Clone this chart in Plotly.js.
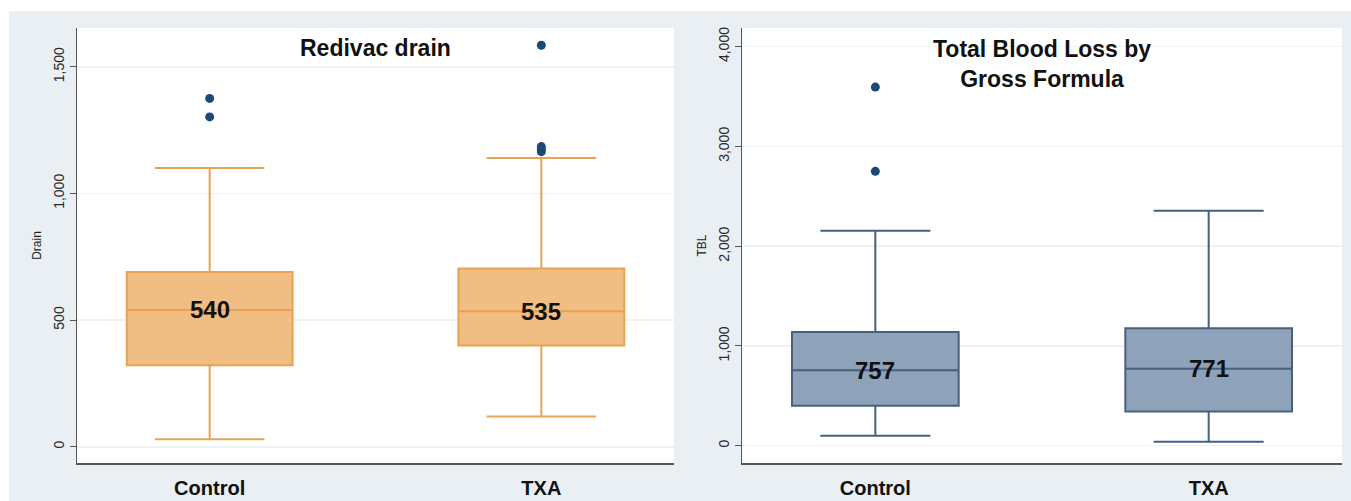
<!DOCTYPE html>
<html>
<head>
<meta charset="utf-8">
<script src="https://cdn.plot.ly/plotly-3.0.1.min.js"></script>
<style>html,body{margin:0;padding:0;background:#fff;}#chart{width:1351px;height:501px;}</style>
</head>
<body>
<div id="chart"></div>
<script>
// ---- data ----
const categories = ['Control', 'TXA'];
const positions = [0, 1];

// Redivac drain (left panel)
const drainLower  = [30, 120];
const drainQ1     = [322, 400];
const drainMedian = [540, 535];
const drainQ3     = [690, 704];
const drainUpper  = [1100, 1140];
const drainOutControl = [1375, 1302];
const drainOutTXA     = [1585, 1185, 1175, 1165];

// Total blood loss (right panel)
const tblLower  = [100, 40];
const tblQ1     = [400, 344];
const tblMedian = [757, 771];
const tblQ3     = [1140, 1177];
const tblUpper  = [2155, 2355];
const tblOutControl = [3595, 2750];
const tblOutTXA     = [];

const drainTicks = [0, 500, 1000, 1500];
const tblTicks   = [0, 1000, 2000, 3000, 4000];

// ---- styles ----
const orangeFill = 'rgb(240,190,130)';
const orangeLine = 'rgb(232,162,82)';
const blueFill = 'rgb(142,162,186)';
const blueLine = 'rgb(70,96,126)';
const dotColor = 'rgb(28,72,118)';
const bgGray = '#e9eff2';
const boldFont = 'Liberation Sans, Arial, sans-serif';

function boxTrace(xa, ya, lower, q1, med, q3, upper, fill, line) {
  return {
    type: 'box', x: positions, q1: q1, median: med, q3: q3,
    lowerfence: lower, upperfence: upper,
    xaxis: xa, yaxis: ya, width: 0.5, whiskerwidth: 0.66,
    boxpoints: false, fillcolor: fill, line: {color: line, width: 2},
    hoverinfo: 'skip', showlegend: false
  };
}
function outTrace(xa, ya, pos, vals) {
  return {
    type: 'scatter', mode: 'markers', x: vals.map(() => pos), y: vals,
    xaxis: xa, yaxis: ya, marker: {color: dotColor, size: 9},
    hoverinfo: 'skip', showlegend: false
  };
}

const data = [
  boxTrace('x', 'y', drainLower, drainQ1, drainMedian, drainQ3, drainUpper, orangeFill, orangeLine),
  outTrace('x', 'y', positions[0], drainOutControl),
  outTrace('x', 'y', positions[1], drainOutTXA),
  boxTrace('x2', 'y2', tblLower, tblQ1, tblMedian, tblQ3, tblUpper, blueFill, blueLine),
  outTrace('x2', 'y2', positions[0], tblOutControl),
  outTrace('x2', 'y2', positions[1], tblOutTXA)
];

const W = 1351, H = 501;
const px = v => v / W, py = v => 1 - v / H;

function xAxis(domain) {
  return {
    domain: domain, range: [-0.4, 1.4], tickvals: positions, ticktext: categories,
    showline: true, linecolor: '#555', linewidth: 1.5, ticks: '', showgrid: false,
    zeroline: false, ticklabelstandoff: 6,
    tickfont: {family: boldFont, size: 20, color: '#111', weight: 'bold'}
  };
}
function yAxis(domain, range, ticks, title) {
  return {
    domain: domain, range: range, tickvals: ticks, tickformat: ',',
    showline: true, linecolor: '#555', linewidth: 1.5, ticks: 'outside', ticklen: 6,
    tickcolor: '#555', tickangle: -90, showgrid: true, gridcolor: '#eef2f4', gridwidth: 1.5,
    zeroline: false, tickfont: {family: 'Liberation Sans, Arial, sans-serif', size: 14, color: '#2a2a2a'},
    title: {text: title, font: {family: 'Liberation Sans, Arial, sans-serif', size: 12, color: '#222'}, standoff: 6}
  };
}

const yDom = [py(463), py(28)];
const layout = {
  width: W, height: H, margin: {l: 0, r: 0, t: 0, b: 0},
  paper_bgcolor: bgGray, plot_bgcolor: '#ffffff', showlegend: false,
  xaxis: xAxis([px(77), px(674)]),
  yaxis: yAxis(yDom, [-64, 1653], drainTicks, 'Drain'),
  xaxis2: Object.assign(xAxis([px(742), px(1342)]), {anchor: 'y2'}),
  yaxis2: Object.assign(yAxis(yDom, [-173, 4187], tblTicks, 'TBL'), {anchor: 'x2'}),
  shapes: [
    {type: 'rect', xref: 'paper', yref: 'paper', x0: 0, x1: 1, y0: py(11), y1: 1,
     fillcolor: '#ffffff', line: {width: 0}, layer: 'below'},
    {type: 'rect', xref: 'paper', yref: 'paper', x0: 0, x1: px(9), y0: 0, y1: 1,
     fillcolor: '#ffffff', line: {width: 0}, layer: 'below'}
  ],
  annotations: [
    {xref: 'paper', yref: 'paper', x: px(375), y: py(48), text: 'Redivac drain', showarrow: false,
     font: {family: boldFont, size: 23, color: '#111', weight: 'bold'}, xanchor: 'center', yanchor: 'middle'},
    {xref: 'paper', yref: 'paper', x: px(1042), y: py(64), text: 'Total Blood Loss by<br>Gross Formula', showarrow: false,
     font: {family: boldFont, size: 23, color: '#111', weight: 'bold'}, xanchor: 'center', yanchor: 'middle'}
  ]
};
categories.forEach((c, i) => {
  layout.annotations.push({xref: 'x', yref: 'y', x: positions[i], y: drainMedian[i], text: String(drainMedian[i]),
    showarrow: false, font: {family: boldFont, size: 24, color: '#111', weight: 'bold'}});
  layout.annotations.push({xref: 'x2', yref: 'y2', x: positions[i], y: tblMedian[i], text: String(tblMedian[i]),
    showarrow: false, font: {family: boldFont, size: 24, color: '#111', weight: 'bold'}});
});

Plotly.newPlot('chart', data, layout, {displayModeBar: false, staticPlot: true});
</script>
</body>
</html>
